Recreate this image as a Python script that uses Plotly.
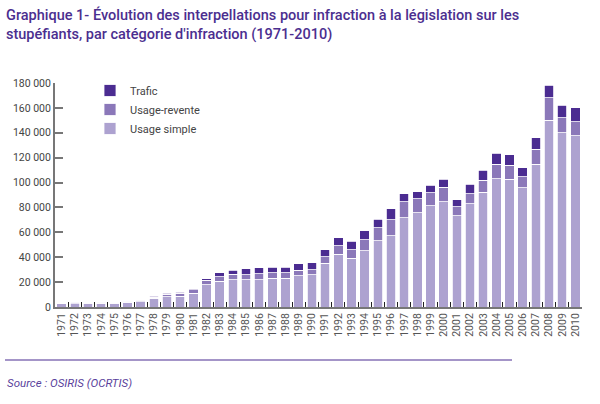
import plotly.graph_objects as go

years = [str(y) for y in range(1971, 2011)]
usage_simple = [2.5, 2.8, 3.0, 3.1, 3.0, 3.8, 4.1, 6.9, 8.3, 8.5,
                11.2, 17.9, 20.5, 21.9, 21.9, 22.1, 23.0, 23.0, 25.1, 25.9,
                35.0, 42.2, 39.0, 45.4, 53.4, 57.4, 71.8, 75.8, 81.4, 84.6,
                73.2, 82.8, 92.1, 103.0, 102.8, 95.9, 114.8, 150.0, 140.0, 137.5]
usage_revente = [0.5, 0.6, 0.7, 0.8, 0.7, 0.8, 0.8, 1.0, 1.8, 2.6,
                 2.7, 3.7, 4.0, 4.5, 4.2, 4.6, 4.5, 4.5, 4.5, 4.0,
                 5.5, 7.2, 7.2, 8.5, 10.1, 12.8, 12.6, 11.0, 10.4, 11.5,
                 7.4, 8.2, 9.6, 11.8, 11.2, 8.8, 11.8, 18.0, 12.0, 11.2]
trafic = [0.2, 0.3, 0.3, 0.4, 0.3, 0.4, 0.4, 0.6, 1.1, 0.6,
          0.8, 1.3, 3.0, 3.2, 4.6, 4.8, 4.5, 4.5, 5.1, 5.6,
          5.7, 6.1, 6.7, 7.2, 7.2, 8.6, 6.6, 5.8, 5.9, 6.7,
          5.4, 7.5, 8.3, 8.6, 8.3, 7.3, 9.4, 10.0, 10.0, 11.3]
yticks = [0, 20000, 40000, 60000, 80000, 100000, 120000, 140000, 160000, 180000]
title_lines = [
    "Graphique 1- Évolution des interpellations pour infraction à la législation sur les",
    "stupéfiants, par catégorie d'infraction (1971-2010)",
]

series = [
    ("Usage simple", usage_simple, "#ada2d0"),
    ("Usage-revente", usage_revente, "#8b78b9"),
    ("Trafic", trafic, "#4b2c91"),
]

fig = go.Figure()
for name, vals, col in series:
    fig.add_trace(go.Bar(
        x=years, y=[v * 1000 for v in vals], name=name,
        marker=dict(color=col, line=dict(color="white", width=0.8)),
    ))

W, H = 600, 404
L, R, T, B = 55, 18, 83, 97
pw, ph = W - L - R, H - T - B
def px_x(px):
    return (px - L) / pw
def px_y(py):
    return (H - B - py) / ph

purple = "#4b2e8f"
annotations = [
    dict(xref="paper", yref="paper", x=px_x(4), y=px_y(4), xanchor="left", yanchor="top",
         align="left", showarrow=False, text="<br>".join(title_lines),
         font=dict(family="Roboto", size=14.5, color=purple, weight=500)),
    dict(xref="paper", yref="paper", x=px_x(5), y=px_y(383), xanchor="left", yanchor="middle",
         showarrow=False, text="<i>Source : OSIRIS (OCRTIS)</i>",
         font=dict(family="Roboto", size=11.5, color="#5a3f9c")),
]

fig.update_layout(
    width=W, height=H, barmode="stack", bargap=0.28,
    margin=dict(l=L, r=R, t=T, b=B, autoexpand=False),
    paper_bgcolor="white", plot_bgcolor="white",
    separators=", ",
    font=dict(family="Roboto", size=11, color="#444"),
    showlegend=True,
    legend=dict(
        x=px_x(90), y=px_y(76), xanchor="left", yanchor="top",
        traceorder="reversed", bgcolor="rgba(0,0,0,0)",
        font=dict(size=11, color="#444"), tracegroupgap=0,
        itemwidth=30,
    ),
    xaxis=dict(
        type="category", showline=True, linecolor="#777", linewidth=2,
        ticks="inside", tickson="boundaries", ticklen=5, tickcolor="#222", tickwidth=1,
        tickangle=-90, tickfont=dict(size=10.5, color="#555"),
        showgrid=False,
    ),
    yaxis=dict(
        range=[0, 180000], tickvals=yticks, tickformat=",d",
        showline=True, linecolor="#777", linewidth=2,
        ticks="inside", ticklen=8, tickcolor="#777", tickwidth=1.5,
        showgrid=False, zeroline=False,
        tickfont=dict(size=10.5, color="#444"),
    ),
    annotations=annotations,
    shapes=[
        dict(type="line", xref="paper", yref="paper", x0=px_x(5), x1=px_x(512),
             y0=px_y(360), y1=px_y(360), line=dict(color="#4b2c91", width=1.2)),
    ],
)

fig.write_html("out.html")
